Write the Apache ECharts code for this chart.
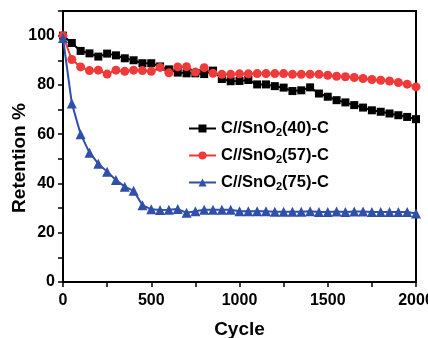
<!DOCTYPE html>
<html>
<head>
<meta charset="utf-8">
<script src="https://cdn.jsdelivr.net/npm/echarts@6/dist/echarts.min.js"></script>
<style>html,body{margin:0;padding:0;background:#fff}#c{width:428px;height:338px}</style>
</head>
<body>
<div id="c"></div>
<script>
const cycles = [0,50,100,150,200,250,300,350,400,450,500,550,600,650,700,750,800,850,900,950,1000,1050,1100,1150,1200,1250,1300,1350,1400,1450,1500,1550,1600,1650,1700,1750,1800,1850,1900,1950,2000];
const s40 = [100,97,93.8,92.8,91.5,92.7,92,90.8,90,88.8,88.8,87.5,86.3,85,84.7,84.7,84.4,85.8,82.4,81.5,81.6,82,80.2,80.2,79.5,78.9,77.5,77.8,79,76.5,75.2,73.8,72.9,71.8,70.8,69.7,69.1,68.4,67.7,67,66.1];
const s57 = [100,90.3,87.3,85.8,86,84.4,86,85.5,86,85.8,85.5,87.1,84.9,87.3,87.4,85.2,87,84.7,84.3,84.3,84.5,84.5,84.6,84.6,84.6,84.6,84.3,84.3,84.3,84.3,83.9,83.5,83.3,83,82.6,82.2,81.9,81.6,81,80.3,79.2];
const s75 = [99,72.5,60,52.5,48,44.8,41.4,38.7,37,31.2,29.5,29.2,29.3,29.6,28.1,28.7,29.3,29.3,29.3,29.3,28.7,28.7,28.7,28.7,28.5,28.5,28.5,28.5,28.7,28.4,28.4,28.6,28.4,28.6,28.6,28.4,28.4,28.4,28.4,28.4,27.8];
const names = ['C//SnO2(40)-C','C//SnO2(57)-C','C//SnO2(75)-C'];
const colors = ['#000000','#ef3a3a','#2f4fa8'];
const symbols = ['rect','circle','triangle'];
const sizes = [8,9,10];
const yTicks = [0,20,40,60,80,100];
const xTicks = [0,500,1000,1500,2000];
const xTitle = 'Cycle';
const yTitle = 'Retention %';

const font = 'Liberation Sans, Arial, sans-serif';
const chart = echarts.init(document.getElementById('c'));
const mk = (vals,i) => ({
  name: names[i], type:'line', data: cycles.map((c,k)=>[c, vals[k]]),
  symbol: symbols[i], symbolSize: sizes[i],
  itemStyle:{color:colors[i]}, lineStyle:{color:colors[i], width:2},
  animation:false
});
chart.setOption({
  animation:false,
  grid:{left:63,right:12,top:11,bottom:56,show:true,borderColor:'#000',borderWidth:2,
    containLabel:false, outerBoundsMode:'none'},
  graphic:[{
    type:'text', x:20, y:158, rotation:Math.PI/2,
    style:{text:yTitle, fontFamily:font, fontWeight:'bold', fontSize:19, fill:'#000',
      align:'center', verticalAlign:'middle'}
  }],
  legend:{
    left:183, top:115, orient:'vertical', itemWidth:27, itemHeight:10, itemGap:9,
    data: names,
    formatter: n => n.replace('SnO2','SnO{sub|2}'),
    textStyle:{fontFamily:font,fontWeight:'bold',fontSize:16.5,color:'#000',
      rich:{sub:{fontFamily:font,fontWeight:'bold',fontSize:11,padding:[8,0,0,0]}}}
  },
  xAxis:{
    type:'value', min:0, max:2000, interval:250,
    name:xTitle, nameLocation:'middle', nameGap:38,
    nameTextStyle:{fontFamily:font,fontWeight:'bold',fontSize:19,color:'#000'},
    axisLine:{lineStyle:{color:'#000',width:2}},
    axisTick:{length:5,lineStyle:{color:'#000',width:1.5}},
    axisLabel:{fontFamily:font,fontWeight:'bold',fontSize:16,color:'#000',margin:11,
      formatter: v => xTicks.includes(v) ? String(v) : ''},
    splitLine:{show:false}
  },
  yAxis:{
    type:'value', min:0, max:110, interval:10,
    axisLine:{lineStyle:{color:'#000',width:2}},
    axisTick:{length:5,lineStyle:{color:'#000',width:1.5}},
    axisLabel:{fontFamily:font,fontWeight:'bold',fontSize:16,color:'#000',margin:8,
      formatter: v => yTicks.includes(v) ? String(v) : ''},
    splitLine:{show:false}
  },
  series:[mk(s40,0),mk(s57,1),mk(s75,2)]
});
</script>
</body>
</html>
